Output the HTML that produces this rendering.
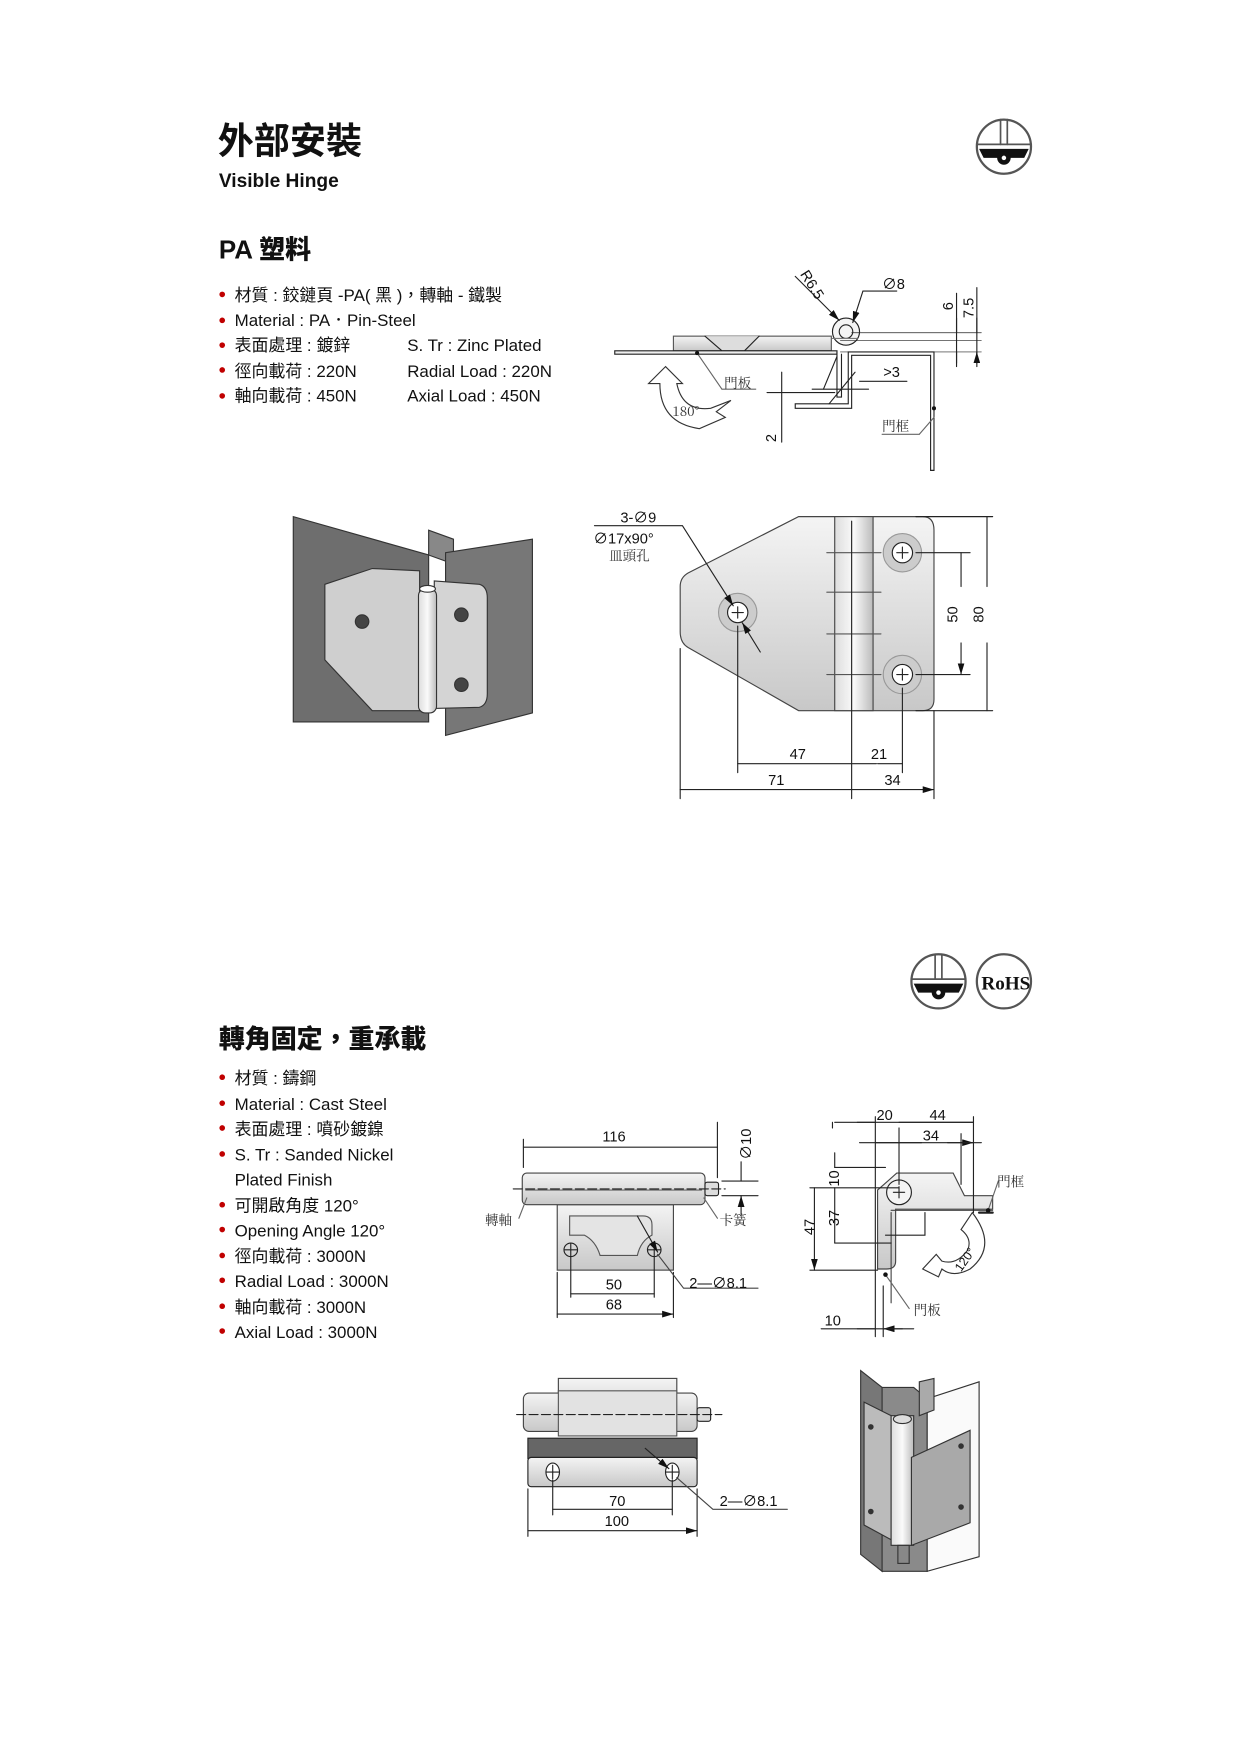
<!DOCTYPE html>
<html><head><meta charset="utf-8"><style>
html,body{margin:0;padding:0;background:#fff}
svg{display:block}
text{font-family:"Liberation Sans","Noto Sans CJK TC",sans-serif;fill:#111}
.b{font-size:15px}
.d{font-size:13px}
.n{font-family:"Noto Serif CJK SC","Noto Sans CJK TC",serif;font-size:12px;fill:#333}
</style></head><body>
<svg width="1241" height="1754" viewBox="0 0 1241 1754" xmlns="http://www.w3.org/2000/svg">
<defs>
<marker id="a" markerWidth="10" markerHeight="6" refX="10" refY="3" orient="auto-start-reverse" markerUnits="userSpaceOnUse"><path d="M0,0 L10,3 L0,6z" fill="#111"/></marker>
<linearGradient id="g1" x1="0" y1="0" x2="0" y2="1"><stop offset="0" stop-color="#f4f4f4"/><stop offset="1" stop-color="#c8c8c8"/></linearGradient>
<linearGradient id="g2" x1="0" y1="0" x2="1" y2="0"><stop offset="0" stop-color="#ddd"/><stop offset=".5" stop-color="#fafafa"/><stop offset="1" stop-color="#bbb"/></linearGradient>
</defs>
<g transform="scale(1.128)" stroke-linecap="round">
<text x="193" y="136" style="font-size:32px;font-weight:bold">外部安裝</text>
<text x="194" y="166" style="font-size:17px;font-weight:bold">Visible Hinge</text>
<g transform="translate(890,130)">
<circle r="24" fill="#fff" stroke="#555" stroke-width="2"/>
<line x1="-3" y1="-24" x2="-3" y2="-2" stroke="#555" stroke-width="1.5"/><line x1="3" y1="-24" x2="3" y2="-2" stroke="#555" stroke-width="1.5"/>
<line x1="-24" y1="-2" x2="24" y2="-2" stroke="#555" stroke-width="1.5"/>
<path d="M-22,2 H22 L18,10 H-18z" fill="#111"/><circle cy="10" r="6" fill="#111"/><circle cy="10" r="2" fill="#fff"/>
</g>
<text x="194" y="229" style="font-size:23px;font-weight:900">PA 塑料</text>
<g fill="#c00000"><circle cx="197" cy="261" r="2.5"/><circle cx="197" cy="284" r="2.5"/><circle cx="197" cy="306" r="2.5"/><circle cx="197" cy="328" r="2.5"/><circle cx="197" cy="351" r="2.5"/></g>
<text class="b" x="208" y="267">材質 : 鉸鏈頁 -PA( 黑 )，轉軸 - 鐵製</text>
<text class="b" x="208" y="289">Material : PA．Pin-Steel</text>
<text class="b" x="208" y="311">表面處理 : 鍍鋅</text><text class="b" x="361" y="311">S. Tr : Zinc Plated</text>
<text class="b" x="208" y="334">徑向載荷 : 220N</text><text class="b" x="361" y="334">Radial Load : 220N</text>
<text class="b" x="208" y="356">軸向載荷 : 450N</text><text class="b" x="361" y="356">Axial Load : 450N</text>

<g fill="none" stroke="#222" stroke-width="1">
<rect x="597" y="298" width="140" height="13" fill="url(#g1)" stroke="#555"/>
<path d="M625,298 L640,311 H660 L673,298" fill="#ddd"/>
<rect x="545" y="311" width="197" height="3" fill="#eee"/>
<circle cx="750" cy="294" r="12" fill="#f4f4f4"/><circle cx="750" cy="294" r="6"/>
<path d="M738,300 L760,300" stroke="#777"/>
<path d="M742,312 V352 H746 V314" fill="#fff"/>
<path d="M752,312 H828 V417 H825 V315 H755 V362 H705 V358 H752z" fill="#fff"/>
<line x1="742" y1="316" x2="730" y2="345"/><line x1="758" y1="330" x2="735" y2="358"/>
<line x1="720" y1="345" x2="770" y2="345"/><line x1="762" y1="338" x2="804" y2="338"/>
<line x1="680" y1="348" x2="740" y2="348"/>
<line x1="693" y1="330" x2="693" y2="392"/>
<line x1="755" y1="295" x2="870" y2="295" stroke-width=".6"/><line x1="745" y1="302" x2="870" y2="302" stroke-width=".6"/><line x1="745" y1="312" x2="870" y2="312" stroke-width=".6"/>
<line x1="848" y1="260" x2="848" y2="322"/><line x1="866" y1="255" x2="866" y2="322"/>
<path d="M848,282 V295 M848,325 V312 M866,282 V295 M866,325 V312" marker-end="url(#a)"/>
<line x1="705" y1="245" x2="744" y2="284" marker-end="url(#a)"/>
<path d="M795,258 H765 L756,286" marker-end="url(#a)"/>
<line x1="618" y1="313" x2="640" y2="345" stroke="#666"/><line x1="640" y1="345" x2="670" y2="345" stroke="#666"/>
<line x1="828" y1="370" x2="815" y2="385" stroke="#666"/><line x1="782" y1="385" x2="815" y2="385" stroke="#666"/>
<path d="M590,325 L575,340 H585 Q585,375 620,380 L643,370 L635,365 L648,355 L630,362 Q605,365 600,340 H605z" fill="#fff" stroke="#333"/>
</g>
<circle cx="618" cy="313" r="1.8" fill="#111"/><circle cx="828" cy="362" r="1.8" fill="#111"/>
<text class="d" transform="translate(709,243) rotate(58)">R6.5</text>
<text class="d" x="782" y="256">∅8</text>
<text class="d" transform="translate(845,275) rotate(-90)">6</text>
<text class="d" transform="translate(863,282) rotate(-90)">7.5</text>
<text class="d" x="783" y="334">&gt;3</text>
<text class="d" transform="translate(688,392) rotate(-90)">2</text>
<text class="n" x="642" y="344">門板</text><text class="n" x="782" y="382">門框</text>
<text class="n" x="596" y="369">180°</text>

<g stroke="#333" stroke-width="1">
<path d="M260,458 L380,492 L380,640 L260,640z" fill="#6e6e6e"/>
<path d="M380,492 V470 L402,478 V500z" fill="#888"/>
<path d="M395,490 L472,478 V632 L395,652z" fill="#777"/>
<path d="M288,518 L330,504 L372,506 V630 L330,630 L288,585z" fill="#cfcfcf"/>
<path d="M385,515 L425,518 Q432,520 432,530 V615 Q432,625 425,627 L385,628z" fill="#d4d4d4"/>
<rect x="371" y="522" width="16" height="110" rx="6" fill="url(#g2)"/>
<ellipse cx="379" cy="522" rx="7" ry="3" fill="#fff"/>
<circle cx="321" cy="551" r="6" fill="#444"/><circle cx="409" cy="545" r="6" fill="#444"/><circle cx="409" cy="607" r="6" fill="#444"/>
</g>

<g fill="none" stroke="#222" stroke-width="1">
<path d="M708,458 H818 Q828,458 828,470 V620 Q828,630 818,630 H708 L610,574 Q603,570 603,560 V520 Q603,512 610,508z" fill="url(#g1)" stroke="#444"/>
<rect x="740" y="458" width="34" height="172" fill="url(#g2)" stroke="#444"/>
<path d="M733,490 H781 M733,525 H781 M733,562 H781 M733,598 H781" stroke="#555"/>
<circle cx="654" cy="543" r="17" fill="#ccc" stroke="#999"/><circle cx="654" cy="543" r="9" fill="#fff"/>
<circle cx="800" cy="490" r="17" fill="#ccc" stroke="#999"/><circle cx="800" cy="490" r="9" fill="#fff"/>
<circle cx="800" cy="598" r="17" fill="#ccc" stroke="#999"/><circle cx="800" cy="598" r="9" fill="#fff"/>
<path d="M649,543 H659 M654,538 V548 M795,490 H805 M800,485 V495 M795,598 H805 M800,593 V603"/>
<path d="M527,466 H605 L650,537" marker-end="url(#a)"/><line x1="674" y1="578" x2="658" y2="552" marker-end="url(#a)"/>
<path d="M812,458 H880 M812,630 H880 M812,490 H860 M812,598 H860"/>
<path d="M875,520 V458 M875,570 V630 M852,520 V490 M852,570 V598" marker-end="url(#a)"/>
<path d="M654,555 V685 M755,462 V708 M800,610 V685 M603,575 V708 M828,630 V708"/>
<path d="M705,677 H654 M705,677 H755 M777,677 H755 M778,677 H800 M690,700 H603 M690,700 H755 M792,700 H755 M792,700 H828" marker-end="url(#a)"/>
</g>
<text class="d" x="550" y="463">3-∅9</text><text class="d" x="526" y="482">∅17x90°</text>
<text class="n" x="540" y="497">皿頭孔</text>
<text class="d" transform="translate(849,552) rotate(-90)">50</text>
<text class="d" transform="translate(872,552) rotate(-90)">80</text>
<text class="d" x="700" y="673">47</text><text class="d" x="772" y="673">21</text>
<text class="d" x="681" y="696">71</text><text class="d" x="784" y="696">34</text>

<g transform="translate(832,870)">
<circle r="24" fill="#fff" stroke="#555" stroke-width="2"/>
<line x1="-3" y1="-24" x2="-3" y2="-2" stroke="#555" stroke-width="1.5"/><line x1="3" y1="-24" x2="3" y2="-2" stroke="#555" stroke-width="1.5"/>
<line x1="-24" y1="-2" x2="24" y2="-2" stroke="#555" stroke-width="1.5"/>
<path d="M-22,2 H22 L18,10 H-18z" fill="#111"/><circle cy="10" r="6" fill="#111"/><circle cy="10" r="2" fill="#fff"/>
</g>
<circle cx="890" cy="870" r="24" fill="#fff" stroke="#555" stroke-width="2"/>
<text x="870" y="877" style="font-family:'Liberation Serif',serif;font-size:17px;font-weight:bold">RoHS</text>

<text x="194" y="929" style="font-size:23px;font-weight:900">轉角固定，重承載</text>
<g fill="#c00000"><circle cx="197" cy="955" r="2.5"/><circle cx="197" cy="978" r="2.5"/><circle cx="197" cy="1000" r="2.5"/><circle cx="197" cy="1023" r="2.5"/><circle cx="197" cy="1068" r="2.5"/><circle cx="197" cy="1090" r="2.5"/><circle cx="197" cy="1113" r="2.5"/><circle cx="197" cy="1135" r="2.5"/><circle cx="197" cy="1158" r="2.5"/><circle cx="197" cy="1180" r="2.5"/></g>
<text class="b" x="208" y="961">材質 : 鑄鋼</text>
<text class="b" x="208" y="984">Material : Cast Steel</text>
<text class="b" x="208" y="1006">表面處理 : 噴砂鍍鎳</text>
<text class="b" x="208" y="1029">S. Tr : Sanded Nickel</text>
<text class="b" x="208" y="1051">Plated Finish</text>
<text class="b" x="208" y="1074">可開啟角度 120°</text>
<text class="b" x="208" y="1096">Opening Angle 120°</text>
<text class="b" x="208" y="1119">徑向載荷 : 3000N</text>
<text class="b" x="208" y="1141">Radial Load : 3000N</text>
<text class="b" x="208" y="1164">軸向載荷 : 3000N</text>
<text class="b" x="208" y="1186">Axial Load : 3000N</text>

<g fill="none" stroke="#222" stroke-width="1">
<rect x="494" y="1068" width="103" height="58" fill="url(#g1)" stroke="#444"/>
<path d="M505,1078 H570 Q578,1078 578,1086 V1095 Q568,1100 565,1113 H532 Q528,1100 518,1095 H505z" fill="#e4e4e4" stroke="#555"/>
<rect x="463" y="1040" width="162" height="28" rx="4" fill="url(#g1)" stroke="#444"/>
<line x1="466" y1="1055" x2="622" y2="1055" stroke="#666"/>
<rect x="625" y="1048" width="12" height="12" rx="2" fill="#ddd"/>
<line x1="455" y1="1054" x2="643" y2="1054" stroke-dasharray="8,3"/>
<circle cx="506" cy="1108" r="6"/><circle cx="580" cy="1108" r="6"/>
<path d="M500,1108 H512 M506,1102 V1114 M574,1108 H586 M580,1102 V1114"/>
<path d="M464,1035 V1010 M636,1044 V995 M494,1128 V1168 M597,1128 V1168 M506,1114 V1150 M580,1114 V1150"/>
<path d="M550,1017 H464 M550,1017 H636 M540,1147 H506 M540,1147 H580 M540,1165 H494 M540,1165 H597" marker-end="url(#a)"/>
<path d="M640,1047 H672 M640,1060 H672"/>
<path d="M657,1030 V1047 M657,1078 V1060" marker-end="url(#a)"/>
<line x1="565" y1="1078" x2="583" y2="1110" marker-end="url(#a)"/>
<path d="M583,1112 L606,1142 H672" stroke="#444"/>
<line x1="467" y1="1062" x2="460" y2="1080" stroke="#666"/><line x1="624" y1="1062" x2="636" y2="1080" stroke="#666"/>
</g>
<text class="d" x="534" y="1012">116</text>
<text class="d" transform="translate(666,1028) rotate(-90)">∅10</text>
<text class="d" x="537" y="1143">50</text><text class="d" x="537" y="1161">68</text>
<text class="d" x="611" y="1142">2—∅8.1</text>
<text class="n" x="430" y="1086">轉軸</text><text class="n" x="638" y="1086">卡簧</text>

<g fill="none" stroke="#222" stroke-width="1">
<path d="M795,1040 H845 L855,1060 H880 V1072 H794 V1118 Q794,1125 786,1125 H778 L778,1055z" fill="url(#g1)" stroke="#444"/>
<circle cx="797" cy="1057" r="11" fill="#f4f4f4"/>
<path d="M792,1057 H802 M797,1052 V1062"/>
<path d="M790,1073 H880" stroke="#444"/><path d="M790,1075 V1155" stroke="#444"/>
<path d="M820,1075 V1095 H785"/><path d="M868,1075 H880" stroke-width="2"/>
<path d="M738,995 V1000 M863,990 V1075 M797,1000 V1050 M776,990 V1185 M783,1140 V1185 M852,1005 V1050"/>
<path d="M760,995 H776 M817,995 H797 M817,995 H863 M817,1013 H776 M840,1013 H863" marker-end="url(#a)"/>
<path d="M740,995 H863 M762,1013 H870"/>
<path d="M740,1035 H785 M718,1053 H797 M740,1102 H790 M718,1126 H778"/>
<path d="M740,1022 V1035 M740,1080 V1053 M740,1080 V1102 M722,1090 V1053 M722,1090 V1126" marker-end="url(#a)"/>
<path d="M760,1178 H776 M800,1178 H783" marker-end="url(#a)"/><path d="M728,1178 H810"/>
<line x1="876" y1="1073" x2="885" y2="1047" stroke="#666"/>
<line x1="785" y1="1130" x2="806" y2="1160" stroke="#666"/>
<path d="M862,1075 Q885,1105 860,1125 Q845,1133 835,1125 L832,1132 L818,1125 L830,1112 L835,1118 Q848,1122 858,1108 Q862,1098 852,1090z" fill="#fff" stroke="#333"/>
</g>
<circle cx="876" cy="1073" r="2" fill="#111"/><circle cx="785" cy="1130" r="2" fill="#111"/>
<text class="d" x="777" y="993">20</text><text class="d" x="824" y="993">44</text><text class="d" x="818" y="1011">34</text>
<text class="d" transform="translate(744,1052) rotate(-90)">10</text>
<text class="d" transform="translate(744,1087) rotate(-90)">37</text>
<text class="d" transform="translate(722,1095) rotate(-90)">47</text>
<text class="d" x="731" y="1175">10</text>
<text class="d" transform="translate(852,1128) rotate(-55)" style="font-size:11px">120°</text>
<text class="n" x="884" y="1052">門框</text><text class="n" x="810" y="1166">門板</text>

<g fill="none" stroke="#222" stroke-width="1">
<rect x="495" y="1222" width="105" height="40" fill="url(#g1)" stroke="#444"/>
<rect x="464" y="1235" width="154" height="34" rx="5" fill="url(#g1)" stroke="#444"/>
<rect x="495" y="1233" width="105" height="40" fill="#e2e2e2" stroke="#555"/>
<rect x="618" y="1248" width="12" height="12" rx="2" fill="#ddd"/>
<line x1="458" y1="1254" x2="640" y2="1254" stroke-dasharray="8,3"/>
<rect x="468" y="1275" width="150" height="18" fill="#666"/>
<rect x="468" y="1292" width="150" height="26" rx="3" fill="url(#g1)"/>
<ellipse cx="490" cy="1305" rx="6" ry="8" fill="#fff"/><ellipse cx="596" cy="1305" rx="6" ry="8" fill="#fff"/>
<path d="M484,1305 H496 M490,1299 V1311 M590,1305 H602 M596,1299 V1311"/>
<path d="M468,1320 V1362 M618,1320 V1362 M490,1312 V1343 M596,1312 V1343"/>
<path d="M540,1338 H490 M540,1338 H596 M540,1357 H468 M540,1357 H618" marker-end="url(#a)"/>
<line x1="572" y1="1284" x2="593" y2="1302" marker-end="url(#a)"/>
<path d="M600,1310 L632,1338 H698" stroke="#444"/>
</g>
<text class="d" x="540" y="1335">70</text><text class="d" x="536" y="1353">100</text>
<text class="d" x="638" y="1335">2—∅8.1</text>

<g stroke="#333" stroke-width="1">
<path d="M763,1215 L782,1230 V1393 L763,1378z" fill="#777"/>
<path d="M782,1230 H810 L822,1240 V1393 H782z" fill="#8a8a8a"/>
<path d="M822,1240 L868,1225 V1380 L822,1393z" fill="#fafafa"/>
<path d="M815,1225 L828,1222 V1250 L815,1255z" fill="#aaa"/>
<path d="M766,1243 L790,1255 V1365 L766,1352z" fill="#bbb"/>
<path d="M790,1255 H810 V1370 H790z" fill="url(#g2)"/>
<path d="M808,1292 L860,1268 V1350 L808,1370z" fill="#a9a9a9"/>
<ellipse cx="800" cy="1258" rx="8" ry="4" fill="#ddd"/>
<rect x="796" y="1370" width="10" height="16" fill="#888"/>
<circle cx="772" cy="1265" r="2" fill="#333"/><circle cx="772" cy="1340" r="2" fill="#333"/><circle cx="852" cy="1282" r="2" fill="#333"/><circle cx="852" cy="1336" r="2" fill="#333"/>
</g>
</g>
</svg>
</body></html>
